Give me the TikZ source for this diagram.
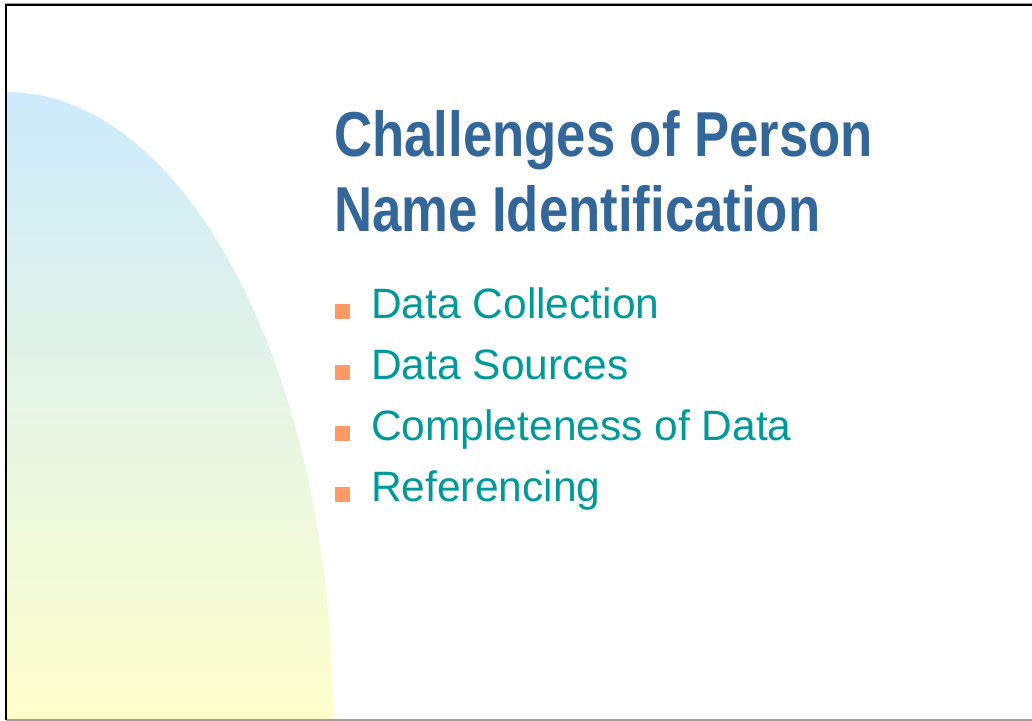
\documentclass[tikz,border=0pt]{standalone}
\usepackage{fontspec}
\setmainfont{Liberation Sans}
\newfontfamily\titlefont[FakeStretch=0.83]{Liberation Sans}
\usepackage{xcolor}
\usepackage{tikz}
\usetikzlibrary{positioning,calc,backgrounds}
\definecolor{titleblue}{HTML}{336699}
\definecolor{itemteal}{HTML}{009999}
\definecolor{bulletorange}{HTML}{FF9966}
\definecolor{skyblue}{HTML}{CCEBFC}
\definecolor{paleyellow}{HTML}{FFFFCC}
\definecolor{framegrey}{HTML}{A0A0A0}

\begin{document}
\begin{tikzpicture}
		[x=1bp,y=1bp,
		titletext/.style={anchor=base west,inner sep=0pt,text=titleblue,font=\titlefont\bfseries\fontsize{63.5bp}{75bp}\selectfont},
		itemtext/.style={anchor=base west,inner sep=0pt,text=itemteal,font=\fontsize{42.5bp}{61bp}\selectfont},
		bulletsq/.style={fill=bulletorange,minimum size=15bp,inner sep=0pt,outer sep=0pt},
		frameline/.style={line width=2bp}]
		\useasboundingbox (0,0) rectangle (1032,721);
		% backdrop
		\shade[top color=skyblue,bottom color=paleyellow] (6,1) -- (6,629) arc[start angle=90,end angle=0,x radius=327,y radius=628] -- cycle;
		\draw[frameline,framegrey] (6,1) -- (1032,1);
		\draw[line width=1bp,framegrey] (5,717.5) -- (1032,717.5);
		\draw[frameline,black] (6,1) -- (6,716) -- (1032,716);
		% title
		\node[titletext] (title1) at (334,564) {Challenges of Person};
		\node[titletext] (title2) at (334,489) {Name Identification};
		% items
		\foreach \i/\txt/\yb in {1/Data Collection/402,2/Data Sources/341,3/Completeness of Data/280,4/Referencing/219}{
			\node[bulletsq] (bul\i) at (342.5,\yb+7.5) {};
			\node[itemtext] (item\i) at (371,\yb) {\txt};
		}
\end{tikzpicture}
\end{document}
